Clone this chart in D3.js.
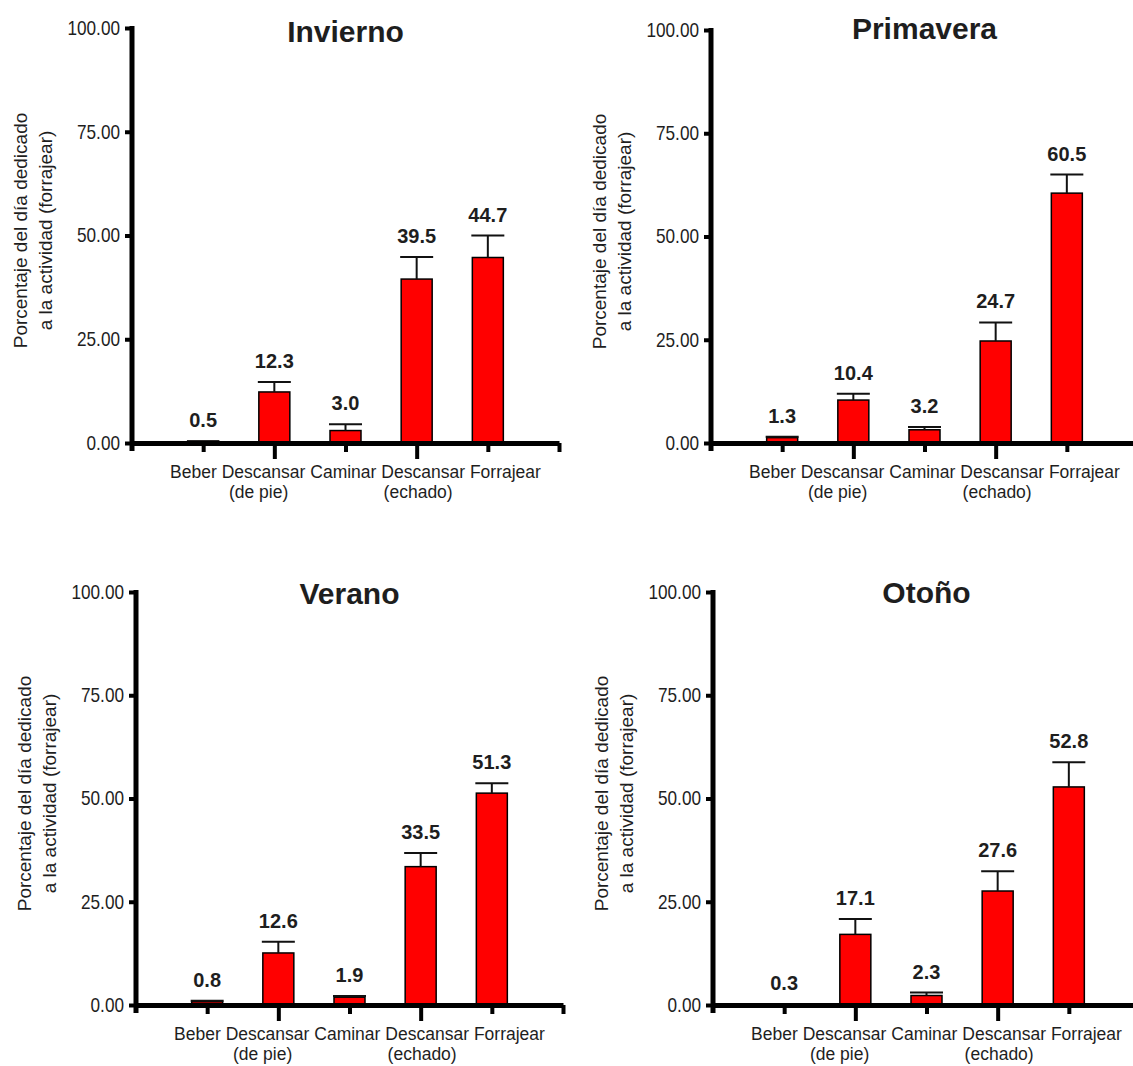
<!DOCTYPE html>
<html>
<head>
<meta charset="utf-8">
<script src="https://cdn.jsdelivr.net/npm/d3@7"></script>
<style>
  body { margin: 0; background: #fff; }
  text { font-family: "Liberation Sans", Arial, sans-serif; fill: #1e1e1e; }
</style>
</head>
<body>
<svg id="chart" width="1133" height="1066"></svg>
<script>
// chart data
const seasons = ['Invierno', 'Primavera', 'Verano', 'Otoño'];
const categories = [['Beber'], ['Descansar', '(de pie)'], ['Caminar'], ['Descansar', '(echado)'], ['Forrajear']];
const yTicks = [0, 25, 50, 75, 100];
const yTitle = ['Porcentaje del día dedicado', 'a la actividad (forrajear)'];

const invierno = [0.5, 12.3, 3.0, 39.5, 44.7];
const inviernoErr = [0.0, 2.4, 1.5, 5.3, 5.3];
const primavera = [1.3, 10.4, 3.2, 24.7, 60.5];
const primaveraErr = [0.2, 1.5, 0.7, 4.5, 4.5];
const verano = [0.8, 12.6, 1.9, 33.5, 51.3];
const veranoErr = [0.2, 2.7, 0.3, 3.3, 2.4];
const otono = [0.3, 17.1, 2.3, 27.6, 52.8];
const otonoErr = [0.0, 3.7, 0.7, 4.8, 6.0];

const series = [
  { title: seasons[0], values: invierno, err: inviernoErr },
  { title: seasons[1], values: primavera, err: primaveraErr },
  { title: seasons[2], values: verano, err: veranoErr },
  { title: seasons[3], values: otono, err: otonoErr },
];

// where each panel sits on the page
const frames = [
  { left: 132, bottom: 443, top: 28, titleDy: 14 },
  { left: 711, bottom: 443, top: 30, titleDy: 9 },
  { left: 136, bottom: 1005, top: 592, titleDy: 12 },
  { left: 713, bottom: 1005, top: 592, titleDy: 11 },
];
const plotWidth = 427;
const barWidth = 31;
const squeeze = 0.86; // tick labels are narrow in the original

const svg = d3.select('#chart');

series.forEach((s, i) => drawPanel(s, frames[i]));

function drawPanel(s, f) {
  const x = d3.scaleLinear().domain([0, 6]).range([f.left, f.left + plotWidth]);
  const y = d3.scaleLinear().domain([0, 100]).range([f.bottom, f.top]);
  const g = svg.append('g');

  // bars
  g.selectAll('rect.bar')
    .data(s.values)
    .enter().append('rect')
    .attr('class', 'bar')
    .attr('x', (d, i) => x(i + 1) - barWidth / 2)
    .attr('y', (d) => y(d))
    .attr('width', barWidth)
    .attr('height', (d) => y(0) - y(d))
    .attr('fill', '#ff0000')
    .attr('stroke', '#000')
    .attr('stroke-width', 1.5);

  // error bars (upper only)
  const errs = g.selectAll('g.err')
    .data(s.values.map((v, i) => ({ v, e: s.err[i], i })).filter((d) => d.e > 0))
    .enter().append('g')
    .attr('class', 'err')
    .attr('stroke', '#111')
    .attr('stroke-width', 2);
  errs.append('line')
    .attr('x1', (d) => x(d.i + 1)).attr('x2', (d) => x(d.i + 1))
    .attr('y1', (d) => y(d.v)).attr('y2', (d) => y(d.v + d.e));
  errs.append('line')
    .attr('x1', (d) => x(d.i + 1) - barWidth / 2 - 1).attr('x2', (d) => x(d.i + 1) + barWidth / 2 + 1)
    .attr('y1', (d) => y(d.v + d.e)).attr('y2', (d) => y(d.v + d.e));

  // value labels
  g.selectAll('text.val')
    .data(s.values)
    .enter().append('text')
    .attr('class', 'val')
    .attr('x', (d, i) => x(i + 1))
    .attr('y', (d, i) => y(d + s.err[i]) - 14)
    .attr('text-anchor', 'middle')
    .attr('font-size', 20)
    .attr('font-weight', 'bold')
    .text(d3.format('.1f'));

  // x axis
  const xAxis = g.append('g')
    .attr('transform', `translate(0,${y(0)})`)
    .call(d3.axisBottom(x).tickValues([1, 2, 3, 4, 5, 6]).tickFormat('').tickSize(0).tickSizeOuter(0));
  xAxis.select('.domain').attr('stroke', '#000').attr('stroke-width', 5);
  xAxis.selectAll('.tick line')
    .attr('stroke', '#000')
    .attr('stroke-width', 4)
    .attr('y2', (d) => (categories[d - 1] && categories[d - 1].length > 1 ? 16 : 9));

  // y axis
  const yAxis = g.append('g')
    .attr('transform', `translate(${x(0)},0)`)
    .call(d3.axisLeft(y).tickValues(yTicks).tickFormat(d3.format('.2f')).tickSize(7).tickPadding(4).tickSizeOuter(0));
  yAxis.select('.domain').remove();
  yAxis.append('line')
    .attr('y1', y(100) - 2).attr('y2', y(0) + 8)
    .attr('stroke', '#000').attr('stroke-width', 5);
  yAxis.selectAll('.tick line').attr('stroke', '#000').attr('stroke-width', 4);
  yAxis.selectAll('.tick text')
    .attr('font-size', 20)
    .attr('font-family', '"Liberation Sans", Arial, sans-serif')
    .attr('fill', '#1e1e3a')
    .attr('x', -12 / squeeze)
    .attr('transform', `scale(${squeeze},1)`);

  // category labels: first lines packed as one phrase, second lines under their word
  const labelCenter = x(3) + 10;
  const first = g.selectAll('text.cat')
    .data(categories)
    .enter().append('text')
    .attr('class', 'cat')
    .attr('font-size', 17.5)
    .attr('y', y(0) + 35)
    .text((d) => d[0]);
  const widths = first.nodes().map((n) => n.getComputedTextLength());
  const space = 4.9;
  const total = d3.sum(widths) + space * (widths.length - 1);
  let cursor = labelCenter - total / 2;
  const centers = widths.map((w) => { const c = cursor + w / 2; cursor += w + space; return c; });
  first.attr('x', (d, i) => centers[i]).attr('text-anchor', 'middle');
  g.selectAll('text.cat2')
    .data(categories.map((d, i) => ({ t: d[1], i })).filter((d) => d.t))
    .enter().append('text')
    .attr('class', 'cat2')
    .attr('font-size', 17.5)
    .attr('text-anchor', 'middle')
    .attr('x', (d) => centers[d.i] - 5)
    .attr('y', y(0) + 55)
    .text((d) => d.t);

  // title
  g.append('text')
    .attr('x', x(3))
    .attr('y', y(100) + f.titleDy)
    .attr('text-anchor', 'middle')
    .attr('font-size', 30)
    .attr('font-weight', 'bold')
    .attr('fill', '#000')
    .text(s.title);

  // y title
  const yt = g.append('g')
    .attr('transform', `translate(${x(0) - 112},${(y(0) + y(100)) / 2 - 5}) rotate(-90)`);
  yt.selectAll('text')
    .data(yTitle)
    .enter().append('text')
    .attr('x', 0)
    .attr('y', (d, i) => i * 25)
    .attr('dy', '0.35em')
    .attr('text-anchor', 'middle')
    .attr('font-size', 19)
    .attr('fill', '#2a1a1a')
    .text((d) => d);
}
</script>
</body>
</html>
